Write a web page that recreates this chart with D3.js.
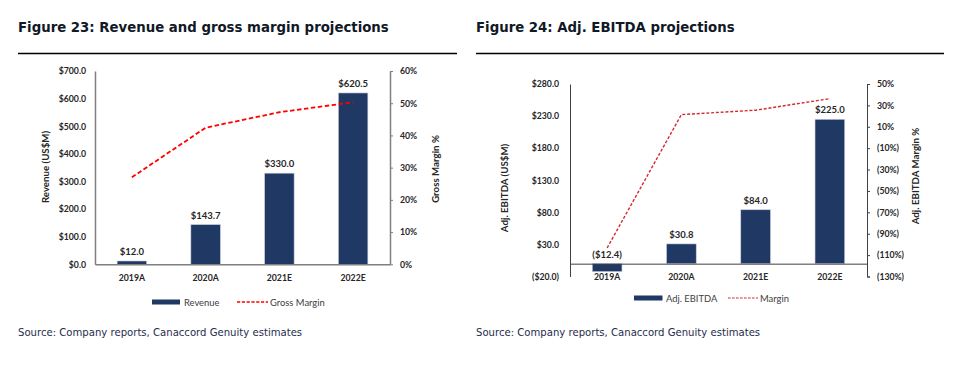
<!DOCTYPE html>
<html>
<head>
<meta charset="utf-8">
<script src="https://cdn.jsdelivr.net/npm/d3@7"></script>
<style>
  body { margin: 0; background: #fff; }
  svg { display: block; }
  .title { font-family: "DejaVu Sans", Verdana, sans-serif; font-weight: bold; font-size: 13.3px; fill: #111827; }
  .source { font-family: "DejaVu Sans", Verdana, sans-serif; font-size: 10.1px; fill: #1f2d4d; }
  .tick text { font-family: Lato, Calibri, sans-serif; font-weight: bold; font-size: 8.7px; fill: #262626; }
  .axis-title { font-family: Lato, Calibri, sans-serif; font-weight: bold; font-size: 9.7px; fill: #262626; }
  .bar-label { font-family: Lato, Calibri, sans-serif; font-weight: bold; font-size: 9.5px; fill: #262626; }
  .legend text { font-family: Lato, Calibri, sans-serif; font-size: 9.4px; fill: #404040; }
</style>
</head>
<body>
<script>
var width = 955;
var height = 373;

// figure 23
var years = ["2019A", "2020A", "2021E", "2022E"];
var revenue = [12.0, 143.7, 330.0, 620.5];
var grossMargin = [0.270, 0.424, 0.472, 0.503];
var revTicks = [0, 100, 200, 300, 400, 500, 600, 700];
var gmTicks = [0, 0.1, 0.2, 0.3, 0.4, 0.5, 0.6];

// figure 24
var ebitda = [-12.4, 30.8, 84.0, 225.0];
var ebitdaMargin = [-103.3, 21.4, 25.5, 36.3];
var ebitdaTicks = [-20, 30, 80, 130, 180, 230, 280];
var emTicks = [50, 30, 10, -10, -30, -50, -70, -90, -110, -130];

var navy = "#1f3864";

var svg = d3.select("body").append("svg")
    .attr("width", width)
    .attr("height", height);

function money(v) {
    var s = "$" + Math.abs(v).toFixed(1);
    return v < 0 ? "(" + s + ")" : s;
}

function pct(v) {
    var s = Math.abs(v) + "%";
    return v < 0 ? "(" + s + ")" : s;
}

// titles, rules and sources
function header(x0, x1, title) {
    svg.append("text").attr("class", "title")
        .attr("x", x0).attr("y", 32).text(title);
    svg.append("line")
        .attr("x1", x0).attr("x2", x1)
        .attr("y1", 53.5).attr("y2", 53.5)
        .attr("stroke", "#000").attr("stroke-width", 1.6);
    svg.append("text").attr("class", "source")
        .attr("x", x0).attr("y", 336)
        .text("Source: Company reports, Canaccord Genuity estimates");
}

header(18, 457, "Figure 23: Revenue and gross margin projections");
header(476, 944, "Figure 24: Adj. EBITDA projections");

// ---------- Figure 23 ----------
var g1 = svg.append("g");

var x1 = d3.scaleBand().domain(years).range([95, 390])
    .paddingInner(0.6).paddingOuter(0.3);
var yRev = d3.scaleLinear().domain([0, 700]).range([264.3, 71]);
var yGm = d3.scaleLinear().domain([0, 0.6]).range([264.3, 71]);

var axL = g1.append("g").attr("transform", "translate(95,0)")
    .call(d3.axisLeft(yRev).tickValues(revTicks).tickSize(0).tickPadding(9).tickFormat(money));
axL.select(".domain").attr("stroke", "#7f7f7f").attr("stroke-width", 1.5);

var axR = g1.append("g").attr("transform", "translate(390,0)")
    .call(d3.axisRight(yGm).tickValues(gmTicks).tickSize(3).tickSizeOuter(0).tickPadding(7)
        .tickFormat(function(d) { return Math.round(d * 100) + "%"; }));
axR.select(".domain").attr("stroke", "#7f7f7f").attr("stroke-width", 1.5);
axR.selectAll(".tick line").attr("stroke", "#7f7f7f");

g1.selectAll("rect.bar")
    .data(revenue)
    .enter()
    .append("rect")
    .attr("class", "bar")
    .attr("x", function(d, i) { return x1(years[i]); })
    .attr("y", function(d) { return yRev(d); })
    .attr("width", x1.bandwidth())
    .attr("height", function(d) { return yRev(0) - yRev(d); })
    .attr("fill", navy)
    .attr("stroke", "#c9cfdb")
    .attr("stroke-width", 0.6);

g1.selectAll("text.bar-label")
    .data(revenue)
    .enter()
    .append("text")
    .attr("class", "bar-label")
    .attr("text-anchor", "middle")
    .attr("x", function(d, i) { return x1(years[i]) + x1.bandwidth() / 2; })
    .attr("y", function(d) { return yRev(d) - 6; })
    .text(money);

var axB = g1.append("g").attr("transform", "translate(0,264.3)")
    .call(d3.axisBottom(x1).tickSize(0).tickPadding(11));
axB.select(".domain").attr("stroke", "#7f7f7f").attr("stroke-width", 1.5);

var gmLine = d3.line()
    .x(function(d, i) { return x1(years[i]) + x1.bandwidth() / 2; })
    .y(function(d) { return yGm(d); });

g1.append("path")
    .datum(grossMargin)
    .attr("d", gmLine)
    .attr("fill", "none")
    .attr("stroke", "#ff0000")
    .attr("stroke-width", 1.8)
    .attr("stroke-dasharray", "4.5,2.5");

g1.append("text").attr("class", "axis-title")
    .attr("transform", "translate(49,167) rotate(-90)")
    .attr("text-anchor", "middle")
    .text("Revenue (US$M)");

g1.append("text").attr("class", "axis-title")
    .attr("transform", "translate(439,169) rotate(-90)")
    .attr("text-anchor", "middle")
    .text("Gross Margin %");

var lg1 = g1.append("g").attr("class", "legend");
lg1.append("rect").attr("x", 152).attr("y", 299.5).attr("width", 28).attr("height", 5).attr("fill", navy);
lg1.append("text").attr("x", 184).attr("y", 305.5).text("Revenue");
lg1.append("line").attr("x1", 237).attr("x2", 268).attr("y1", 302).attr("y2", 302)
    .attr("stroke", "#ff0000").attr("stroke-width", 1.5).attr("stroke-dasharray", "3.2,1.6");
lg1.append("text").attr("x", 270).attr("y", 305.5).text("Gross Margin");

// ---------- Figure 24 ----------
var g2 = svg.append("g");

var x2 = d3.scaleBand().domain(years).range([570, 867])
    .paddingInner(0.6).paddingOuter(0.3);
var yEb = d3.scaleLinear().domain([-20, 280]).range([276.5, 84]);
var yEm = d3.scaleLinear().domain([-130, 50]).range([276.5, 84]);

var axL2 = g2.append("g").attr("transform", "translate(570,0)")
    .call(d3.axisLeft(yEb).tickValues(ebitdaTicks).tickSize(0).tickPadding(11).tickFormat(money));
axL2.select(".domain").attr("stroke", "#404040").attr("stroke-width", 1);

var axR2 = g2.append("g").attr("transform", "translate(867,0)")
    .call(d3.axisRight(yEm).tickValues(emTicks).tickSize(3).tickSizeOuter(3).tickPadding(7).tickFormat(pct));
axR2.select(".domain").attr("stroke", "#404040").attr("stroke-width", 1);
axR2.selectAll(".tick line").attr("stroke", "#404040");

g2.selectAll("rect.bar")
    .data(ebitda)
    .enter()
    .append("rect")
    .attr("class", "bar")
    .attr("x", function(d, i) { return x2(years[i]); })
    .attr("y", function(d) { return Math.min(yEb(d), yEb(0)); })
    .attr("width", x2.bandwidth())
    .attr("height", function(d) { return Math.abs(yEb(0) - yEb(d)); })
    .attr("fill", navy)
    .attr("stroke", "#c9cfdb")
    .attr("stroke-width", 0.6);

g2.selectAll("text.bar-label")
    .data(ebitda)
    .enter()
    .append("text")
    .attr("class", "bar-label")
    .attr("text-anchor", "middle")
    .attr("x", function(d, i) { return x2(years[i]) + x2.bandwidth() / 2; })
    .attr("y", function(d) { return Math.min(yEb(d), yEb(0)) - 6; })
    .text(money);

var axB2 = g2.append("g").attr("transform", "translate(0," + yEb(0) + ")")
    .call(d3.axisBottom(x2).tickSize(0).tickPadding(10));
axB2.select(".domain").attr("stroke", "#404040").attr("stroke-width", 1);

var emLine = d3.line()
    .x(function(d, i) { return x2(years[i]) + x2.bandwidth() / 2; })
    .y(function(d) { return yEm(d); });

g2.append("path")
    .datum(ebitdaMargin)
    .attr("d", emLine)
    .attr("fill", "none")
    .attr("stroke", "#d42a2f")
    .attr("stroke-width", 1.4)
    .attr("stroke-dasharray", "3,1.8");

g2.append("text").attr("class", "axis-title")
    .attr("transform", "translate(508,188) rotate(-90)")
    .attr("text-anchor", "middle")
    .text("Adj. EBITDA (US$M)");

g2.append("text").attr("class", "axis-title")
    .attr("transform", "translate(918.5,176) rotate(-90)")
    .attr("text-anchor", "middle")
    .text("Adj. EBITDA Margin %");

var lg2 = g2.append("g").attr("class", "legend");
lg2.append("rect").attr("x", 634).attr("y", 295.5).attr("width", 28.5).attr("height", 5).attr("fill", navy);
lg2.append("text").attr("x", 666).attr("y", 301.5).text("Adj. EBITDA");
lg2.append("line").attr("x1", 728).attr("x2", 758).attr("y1", 298).attr("y2", 298)
    .attr("stroke", "#d42a2f").attr("stroke-width", 1.2).attr("stroke-dasharray", "2.6,1.4");
lg2.append("text").attr("x", 760).attr("y", 301.5).text("Margin");

svg.selectAll(".tick text").attr("fill", "#262626");
</script>
</body>
</html>
